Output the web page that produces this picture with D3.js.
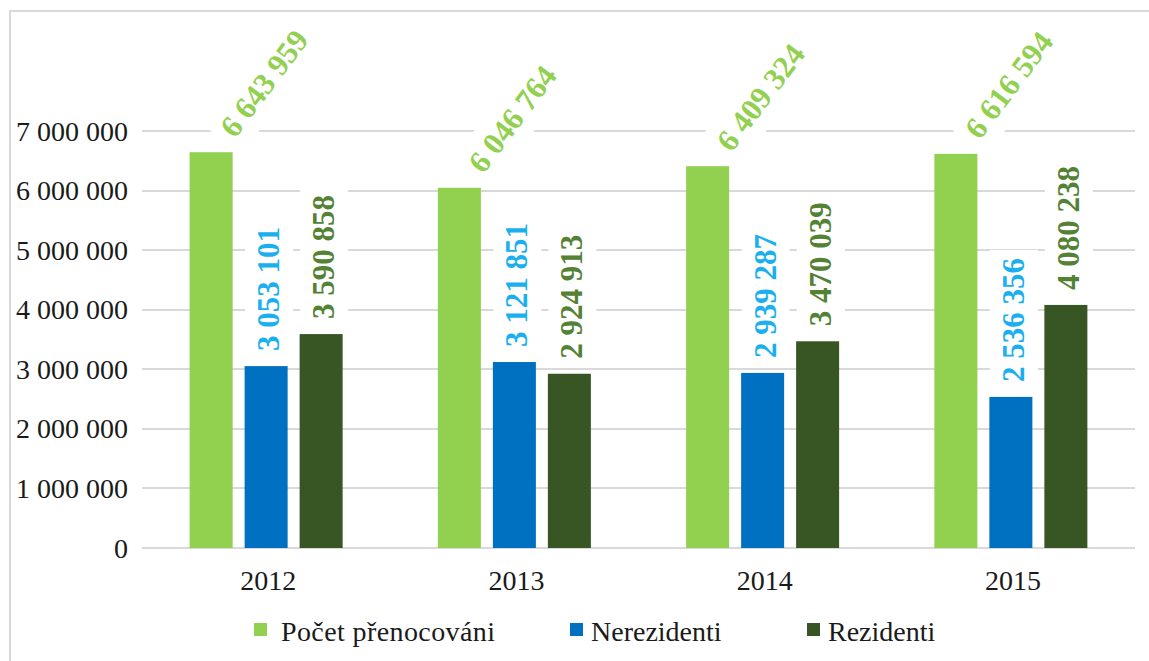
<!DOCTYPE html>
<html>
<head>
<meta charset="utf-8">
<script src="https://cdn.jsdelivr.net/npm/d3@7"></script>
<style>
  html, body { margin: 0; padding: 0; background: #fff; }
  svg { display: block; }
</style>
</head>
<body>
<div class="wrapper"></div>
<script>
var years = ["2012", "2013", "2014", "2015"];
var pocet = [6643959, 6046764, 6409324, 6616594];
var nerezidenti = [3053101, 3121851, 2939287, 2536356];
var rezidenti = [3590858, 2924913, 3470039, 4080238];
var seriesNames = ["Počet přenocováni", "Nerezidenti", "Rezidenti"];
var yTicks = [0, 1000000, 2000000, 3000000, 4000000, 5000000, 6000000, 7000000];

var width = 1149, height = 661;
var barColors = ["#92d050", "#0070c0", "#375623"];
var labelColors = ["#92d050", "#1ab0f0", "#548235"];
var serif = "'Liberation Serif', 'Times New Roman', serif";

var svg = d3.select(".wrapper").append("svg")
  .attr("width", width)
  .attr("height", height);

// chart frame (only top and left edge are inside the picture)
svg.append("path")
  .attr("d", "M10," + height + "V11H" + width)
  .attr("fill", "none")
  .attr("stroke", "#d9d9d9")
  .attr("stroke-width", 2);

var x0 = d3.scaleBand().domain(years).range([142, 1135]).padding(0);
var groupW = 153;
var x1 = d3.scaleBand().domain([0, 1, 2])
  .range([(x0.bandwidth() - groupW) / 2, (x0.bandwidth() + groupW) / 2])
  .paddingInner(0.218);
var y = d3.scaleLinear().domain([0, 7000000]).range([548, 131]);

var fmt = function(v) { return d3.format(",")(v).replace(/,/g, " "); };

var data = years.map(function(yr, i) {
  return { year: yr, values: [pocet[i], nerezidenti[i], rezidenti[i]] };
});

// gridlines
svg.append("g")
  .selectAll("line")
  .data(yTicks)
  .enter().append("line")
    .attr("x1", 142)
    .attr("x2", 1135)
    .attr("y1", function(d) { return Math.round(y(d)); })
    .attr("y2", function(d) { return Math.round(y(d)); })
    .attr("stroke", "#d9d9d9")
    .attr("stroke-width", 2);

// y axis labels
svg.append("g")
  .selectAll("text")
  .data(yTicks)
  .enter().append("text")
    .attr("x", 128)
    .attr("y", function(d) { return y(d); })
    .attr("dy", "0.34em")
    .attr("text-anchor", "end")
    .attr("font-family", serif)
    .attr("font-size", 28)
    .attr("fill", "#1a1a1a")
    .text(fmt);

// x axis labels
svg.append("g")
  .selectAll("text")
  .data(years)
  .enter().append("text")
    .attr("x", function(d) { return x0(d) + x0.bandwidth() / 2 + 2; })
    .attr("y", 590)
    .attr("text-anchor", "middle")
    .attr("font-family", serif)
    .attr("font-size", 28)
    .attr("fill", "#1a1a1a")
    .text(function(d) { return d; });

// flatten bars
var bars = [];
data.forEach(function(d) {
  d.values.forEach(function(v, k) {
    bars.push({ year: d.year, k: k, value: v });
  });
});

var labelLayer = svg.append("g");
var barLayer = svg.append("g");

barLayer.selectAll("rect")
  .data(bars)
  .enter().append("rect")
    .attr("x", function(d) { return x0(d.year) + x1(d.k); })
    .attr("y", function(d) { return y(d.value); })
    .attr("width", x1.bandwidth())
    .attr("height", function(d) { return y(0) - y(d.value); })
    .attr("fill", function(d) { return barColors[d.k]; });

// data labels with white boxes that mask the gridlines
var lab = labelLayer.selectAll("g")
  .data(bars)
  .enter().append("g")
    .attr("transform", function(d) {
      var cx = x0(d.year) + x1(d.k) + x1.bandwidth() / 2;
      var top = y(d.value);
      if (d.k == 0) {
        return "translate(" + (cx + 24) + "," + (top - 13) + ") rotate(-53)";
      }
      return "translate(" + (cx + 13) + "," + (top - 15) + ") rotate(-90)";
    });

lab.append("rect").attr("fill", "#fff");

lab.append("text")
  .attr("font-family", serif)
  .attr("font-weight", "bold")
  .attr("font-size", 31)
  .attr("fill", function(d) { return labelColors[d.k]; })
  .text(function(d) { return fmt(d.value); });

lab.each(function() {
  var g = d3.select(this);
  var len = g.select("text").node().getComputedTextLength();
  g.select("rect")
    .attr("x", -8)
    .attr("y", -34)
    .attr("width", len + 16)
    .attr("height", 48);
});

// legend
var legendX = [254, 570, 807];
var legend = svg.append("g")
  .selectAll("g")
  .data(seriesNames)
  .enter().append("g")
    .attr("transform", function(d, i) { return "translate(" + legendX[i] + ",0)"; });

legend.append("rect")
  .attr("x", 0)
  .attr("y", 623)
  .attr("width", 13)
  .attr("height", 13)
  .attr("fill", function(d, i) { return barColors[i]; });

legend.append("text")
  .attr("x", function(d, i) { return i == 0 ? 27 : 21; })
  .attr("y", 641)
  .attr("font-family", serif)
  .attr("font-size", 28)
  .attr("textLength", function(d, i) { return i == 0 ? 214 : null; })
  .attr("fill", "#1a1a1a")
  .text(function(d) { return d; });
</script>
</body>
</html>
